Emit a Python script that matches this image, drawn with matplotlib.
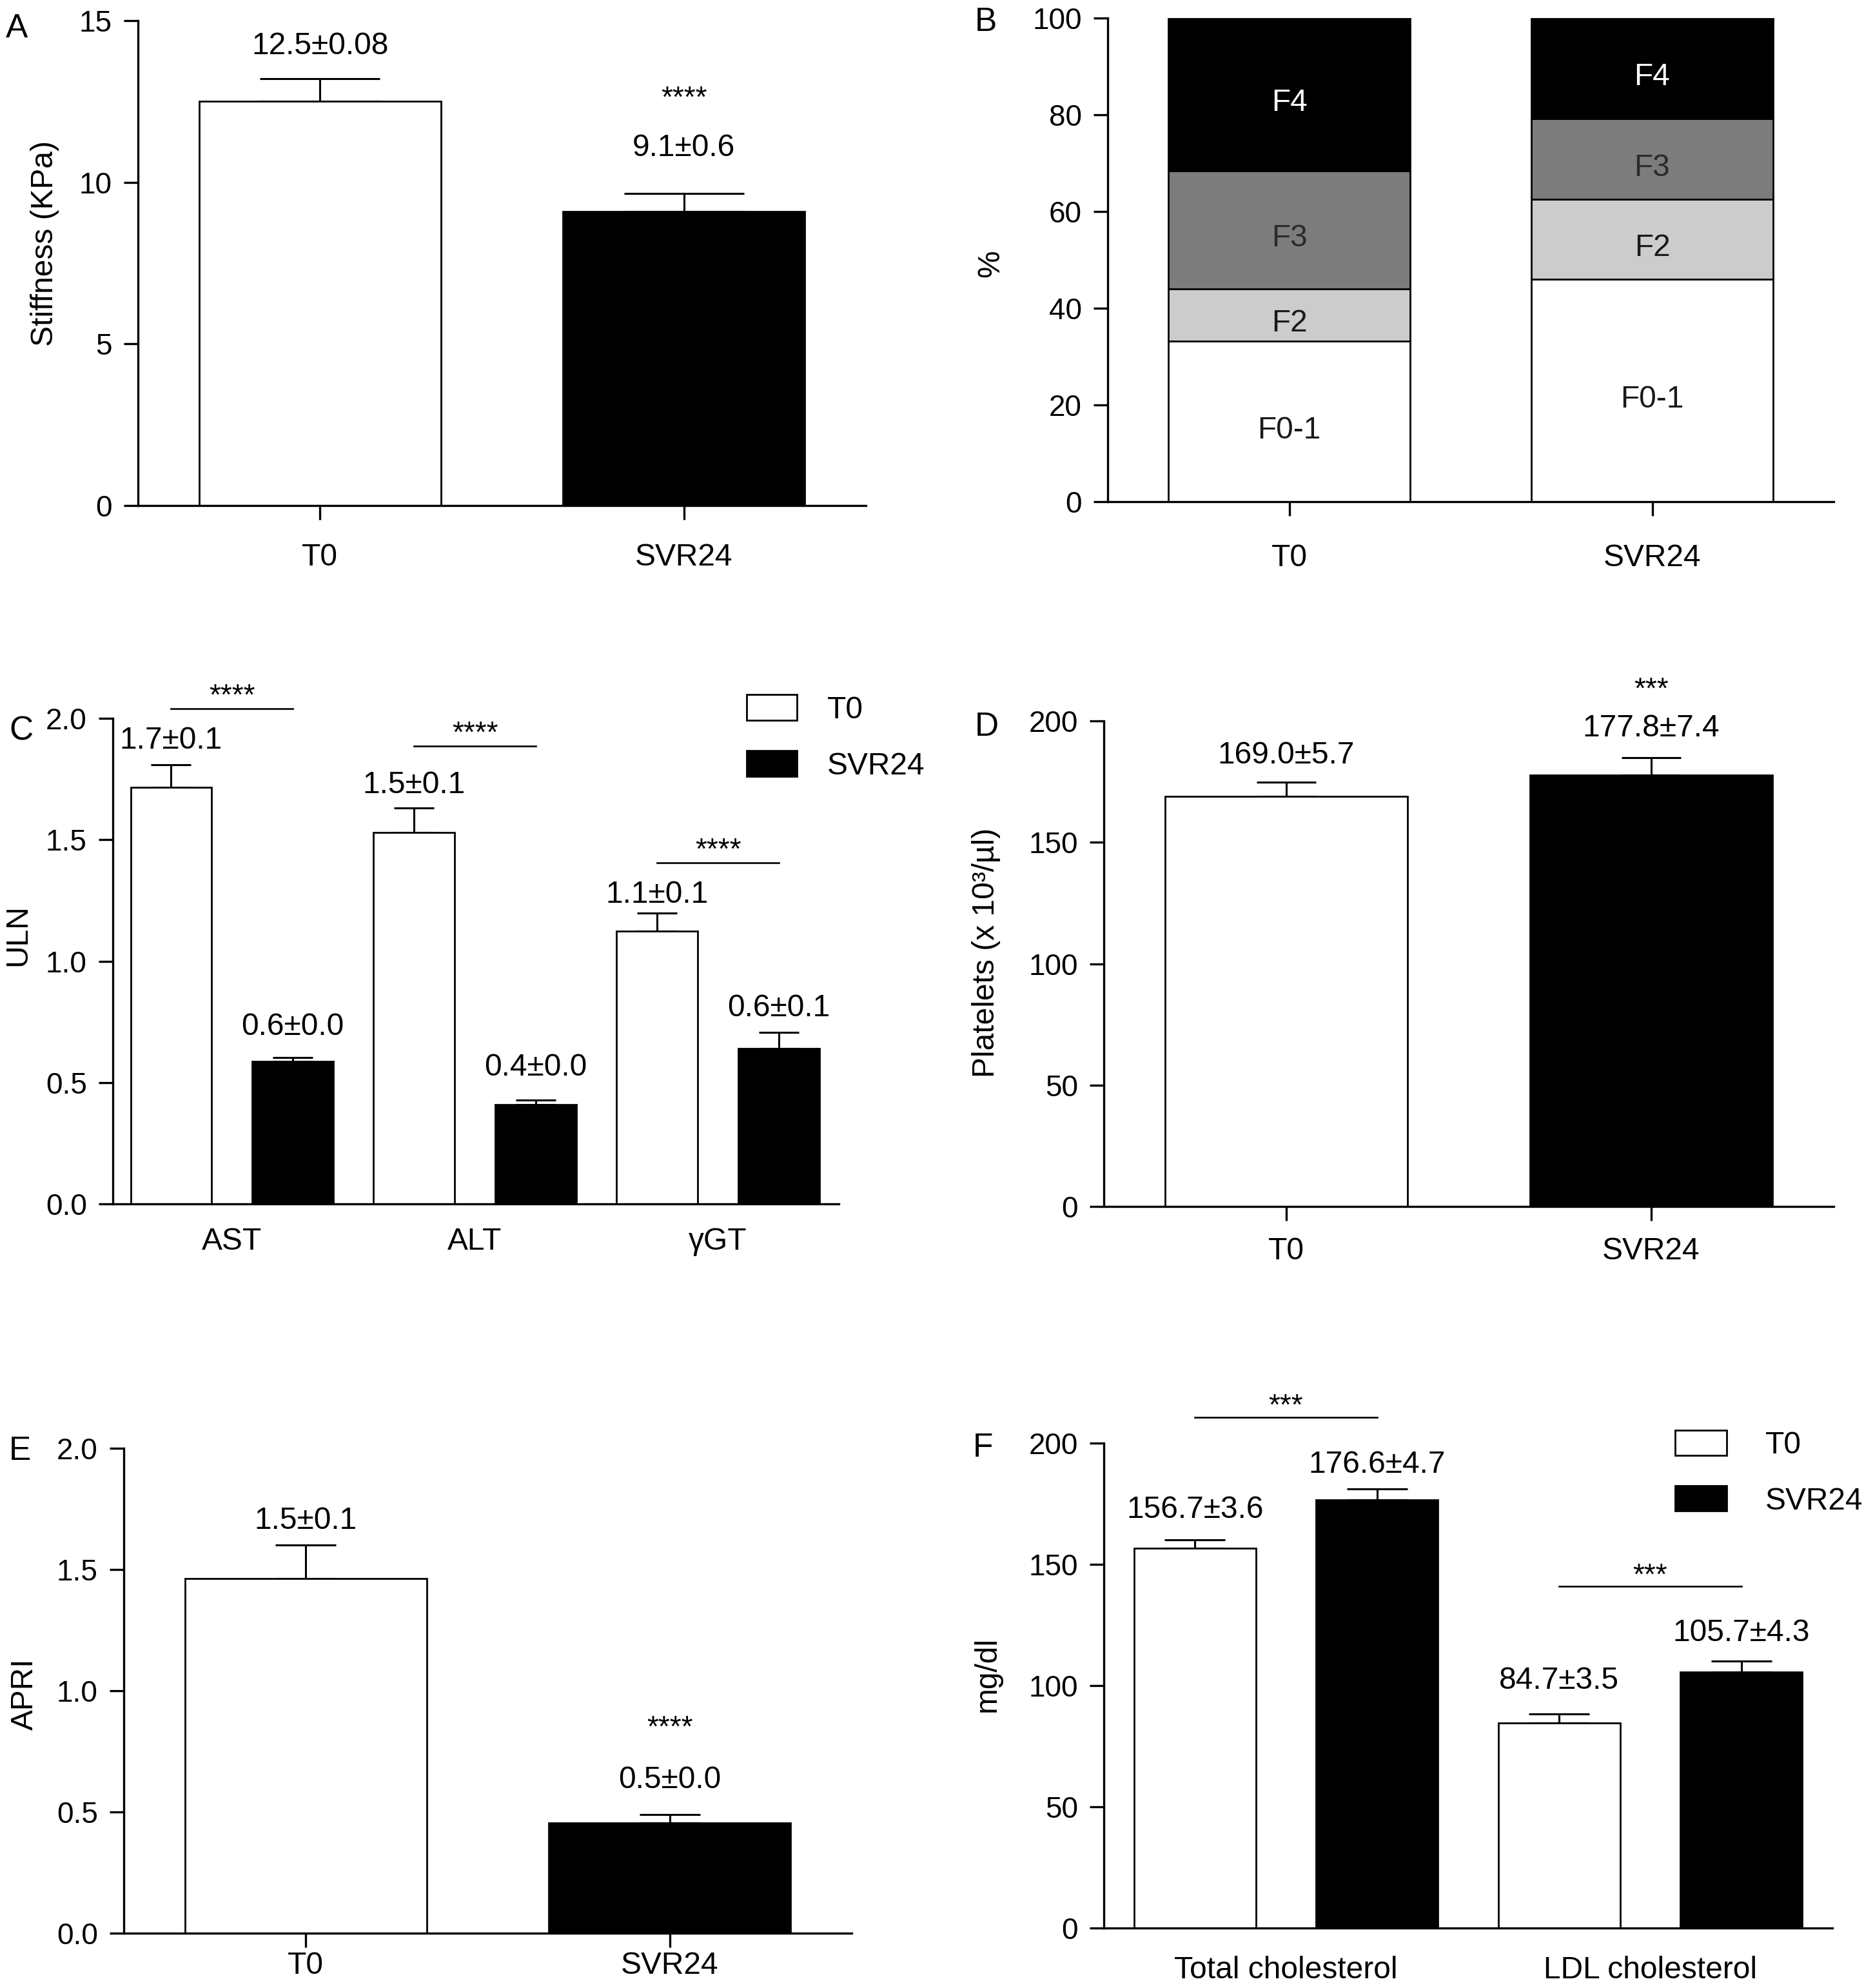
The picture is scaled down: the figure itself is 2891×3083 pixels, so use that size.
import matplotlib
matplotlib.use('Agg')
import matplotlib.pyplot as plt
from matplotlib.patches import Rectangle

plt.rcParams['font.family'] = ['Liberation Sans', 'DejaVu Sans']

# ---------------- data ----------------
groups = ['T0', 'SVR24']

# A - liver stiffness
stiff_mean = [12.5, 9.1]
stiff_err = [0.7, 0.55]
stiff_text = ['12.5±0.08', '9.1±0.6']

# B - fibrosis stage distribution (%)
stages = ['F0-1', 'F2', 'F3', 'F4']
stage_t0 = [33.2, 10.8, 24.4, 31.6]
stage_svr = [46.0, 16.5, 16.7, 20.8]

# C - liver enzymes (x ULN)
enzymes = ['AST', 'ALT', 'γGT']
uln_t0 = [1.715, 1.531, 1.123]
uln_t0_err = [0.095, 0.100, 0.075]
uln_svr = [0.586, 0.408, 0.641]
uln_svr_err = [0.016, 0.020, 0.066]
uln_t0_text = ['1.7±0.1', '1.5±0.1', '1.1±0.1']
uln_svr_text = ['0.6±0.0', '0.4±0.0', '0.6±0.1']

# D - platelets
plt_mean = [169.0, 177.8]
plt_err = [5.7, 7.0]
plt_text = ['169.0±5.7', '177.8±7.4']

# E - APRI
apri_mean = [1.462, 0.455]
apri_err = [0.14, 0.035]
apri_text = ['1.5±0.1', '0.5±0.0']

# F - cholesterol
lipids = ['Total cholesterol', 'LDL cholesterol']
chol_t0 = [156.7, 84.7]
chol_t0_err = [3.5, 3.5]
chol_svr = [176.6, 105.7]
chol_svr_err = [4.6, 4.3]
chol_t0_text = ['156.7±3.6', '84.7±3.5']
chol_svr_text = ['176.6±4.7', '105.7±4.3']

# ---------------- style ----------------
W, H = 2891, 3083
LW = 2.4      # axis lines
BLW = 2.0     # bar edges
ELW = 2.2     # error bars
FS = 34.5     # general text
TFS = 33      # y tick labels
SFS = 33      # stars
PX = 0.72     # points per pixel at dpi 100

fig = plt.figure(figsize=(W / 100, H / 100), dpi=100)


def axes_px(l, t, r, b):
    return fig.add_axes([l / W, 1 - b / H, (r - l) / W, (b - t) / H])


def style(ax, ymax, yticks, fmt, xticks, xlabels, xtick_len, xpad, ylabel, ylab_xy):
    for s in ['top', 'right']:
        ax.spines[s].set_visible(False)
    for s in ['left', 'bottom']:
        ax.spines[s].set_linewidth(LW)
    ax.set_ylim(0, ymax)
    ax.set_yticks(yticks)
    ax.set_yticklabels([fmt.format(v) for v in yticks])
    ax.set_xticks(xticks)
    ax.set_xticklabels(xlabels)
    ax.tick_params(axis='y', length=16, width=LW, pad=13, labelsize=TFS)
    ax.tick_params(axis='x', length=xtick_len, width=LW, pad=xpad, labelsize=FS)
    ax.text(ylab_xy[0], ylab_xy[1], ylabel, rotation=90, ha='center', va='center',
            transform=ax.transAxes, fontsize=FS)


def note(ax, x, y, txt, off_px, size=FS):
    ax.annotate(txt, (x, y), xytext=(0, off_px * PX), textcoords='offset points',
                ha='center', va='baseline', fontsize=size, annotation_clip=False)


def bars(ax, x, means, errs, color, width, cap_px):
    ax.bar(x, means, width=width, color=color, edgecolor='black', linewidth=BLW, zorder=2)
    ax.errorbar(x, means, yerr=[[0] * len(errs), errs], fmt='none', ecolor='black',
                elinewidth=ELW, capsize=cap_px * PX, capthick=ELW, zorder=1)


def box_legend(ax, x0, w, ycs, h, tx):
    for yc, lab, col in zip(ycs, groups, ['white', 'black']):
        ax.add_patch(Rectangle((x0, yc - h / 2), w, h, transform=ax.transAxes, facecolor=col,
                               edgecolor='black', lw=BLW, clip_on=False))
        ax.text(tx, yc - 0.006, lab, transform=ax.transAxes, ha='left', va='center', fontsize=FS)


def letter(x_px, yc_px, s):
    fig.text(x_px / W, 1 - (yc_px + 19) / H, s, ha='left', va='baseline', fontsize=37)


# ---------------- A ----------------
axA = axes_px(214, 32, 1343, 784)
xs = list(range(len(groups)))
for i in xs:
    bars(axA, [i], [stiff_mean[i]], [stiff_err[i]], ['white', 'black'][i], 0.665, 93)
axA.set_xlim(-0.5, 1.5)
style(axA, 15, [0, 5, 10, 15], '{:.0f}', xs, groups, 16, 26, 'Stiffness (KPa)', (-0.128, 0.54))
for i, off in zip(xs, [38, 58]):
    note(axA, i, stiff_mean[i] + stiff_err[i], stiff_text[i], off)
note(axA, 1, stiff_mean[1] + stiff_err[1], '****', 135, SFS)
letter(9, 39, 'A')

# ---------------- B ----------------
axB = axes_px(1718, 28, 2844, 778)
stage_colors = ['white', '#cbcccb', '#7c7c7c', 'black']
stage_text_colors = ['#1a1a1a', '#1a1a1a', '#2b2b2b', 'white']
bottoms = [0.0, 0.0]
for k, st in enumerate(stages):
    hts = [stage_t0[k], stage_svr[k]]
    axB.bar(xs, hts, bottom=bottoms, width=0.665, color=stage_colors[k],
            edgecolor='black', linewidth=BLW, zorder=2)
    for i in xs:
        axB.annotate(st, (i, bottoms[i] + hts[i] / 2), xytext=(0, -26 * PX),
                     textcoords='offset points', ha='center', va='baseline',
                     fontsize=FS, color=stage_text_colors[k])
    bottoms = [bottoms[i] + hts[i] for i in xs]
axB.set_xlim(-0.5, 1.5)
style(axB, 100, [0, 20, 40, 60, 80, 100], '{:.0f}', xs, groups, 16, 31, '%', (-0.161, 0.493))
letter(1512, 29, 'B')

# ---------------- C ----------------
axC = axes_px(175, 1114, 1301, 1867)
c_t0_x = [2 * i for i in range(len(enzymes))]
c_svr_x = [2 * i + 1 for i in range(len(enzymes))]
bars(axC, c_t0_x, uln_t0, uln_t0_err, 'white', 0.668, 31)
bars(axC, c_svr_x, uln_svr, uln_svr_err, 'black', 0.668, 31)
axC.set_xlim(-0.48, 5.495)
style(axC, 2.0, [0, 0.5, 1.0, 1.5, 2.0], '{:.1f}', [2 * i + 0.5 for i in range(len(enzymes))],
      enzymes, 0, 26, 'ULN', (-0.131, 0.553))
ppu_c = axC.bbox.height / 2.0
for i, off in enumerate([25, 23, 16]):
    note(axC, c_t0_x[i], uln_t0[i] + uln_t0_err[i], uln_t0_text[i], off)
for i, off in enumerate([35, 38, 25]):
    note(axC, c_svr_x[i], uln_svr[i] + uln_svr_err[i], uln_svr_text[i], off)
for i, off in enumerate([87, 96, 78]):
    yb = uln_t0[i] + uln_t0_err[i] + off / ppu_c
    axC.plot([c_t0_x[i], c_svr_x[i]], [yb, yb], color='black', lw=1.9, clip_on=False)
    note(axC, c_t0_x[i] + 0.5, yb, '****', 6, SFS)
box_legend(axC, 0.873, 0.069, [1.022, 0.907], 0.053, 0.984)
letter(14, 1129, 'C')

# ---------------- D ----------------
axD = axes_px(1712, 1118, 2844, 1871)
for i in xs:
    bars(axD, [i], [plt_mean[i]], [plt_err[i]], ['white', 'black'][i], 0.665, 46)
axD.set_xlim(-0.5, 1.5)
style(axD, 200, [0, 50, 100, 150, 200], '{:.0f}', xs, groups, 16, 17.6,
      'Platelets (x 10³/µl)', (-0.161, 0.523))
for i, off in zip(xs, [29, 33]):
    note(axD, i, plt_mean[i] + plt_err[i], plt_text[i], off)
note(axD, 1, plt_mean[1] + plt_err[1], '***', 93, SFS)
letter(1512, 1122, 'D')

# ---------------- E ----------------
axE = axes_px(192, 2246, 1321, 2998)
for i in xs:
    bars(axE, [i], [apri_mean[i]], [apri_err[i]], ['white', 'black'][i], 0.665, 47)
axE.set_xlim(-0.5, 1.5)
style(axE, 2.0, [0, 0.5, 1.0, 1.5, 2.0], '{:.1f}', xs, groups, 16, 4.5, 'APRI', (-0.136, 0.493))
for i, off in zip(xs, [25, 41]):
    note(axE, i, apri_mean[i] + apri_err[i], apri_text[i], off)
note(axE, 1, apri_mean[1] + apri_err[1], '****', 121, SFS)
letter(14, 2245, 'E')

# ---------------- F ----------------
axF = axes_px(1712, 2238, 2842, 2990)
f_t0_x = [2 * i for i in range(len(lipids))]
f_svr_x = [2 * i + 1 for i in range(len(lipids))]
bars(axF, f_t0_x, chol_t0, chol_t0_err, 'white', 0.668, 47)
bars(axF, f_svr_x, chol_svr, chol_svr_err, 'black', 0.668, 47)
axF.set_xlim(-0.5, 3.5)
style(axF, 200, [0, 50, 100, 150, 200], '{:.0f}', [2 * i + 0.5 for i in range(len(lipids))],
      lipids, 0, 31, 'mg/dl', (-0.160, 0.523))
ppu_f = axF.bbox.height / 200.0
for i, off in enumerate([34, 39]):
    note(axF, f_t0_x[i], chol_t0[i] + chol_t0_err[i], chol_t0_text[i], off)
for i, off in enumerate([25, 31]):
    note(axF, f_svr_x[i], chol_svr[i] + chol_svr_err[i], chol_svr_text[i], off)
for i, off in enumerate([111, 116]):
    yb = chol_svr[i] + chol_svr_err[i] + off / ppu_f
    axF.plot([f_t0_x[i], f_svr_x[i]], [yb, yb], color='black', lw=1.9, clip_on=False)
    note(axF, f_t0_x[i] + 0.5, yb, '***', 4, SFS)
box_legend(axF, 0.784, 0.071, [1.001, 0.886], 0.052, 0.908)
letter(1509, 2240, 'F')

fig.savefig('out.png', dpi=100)
